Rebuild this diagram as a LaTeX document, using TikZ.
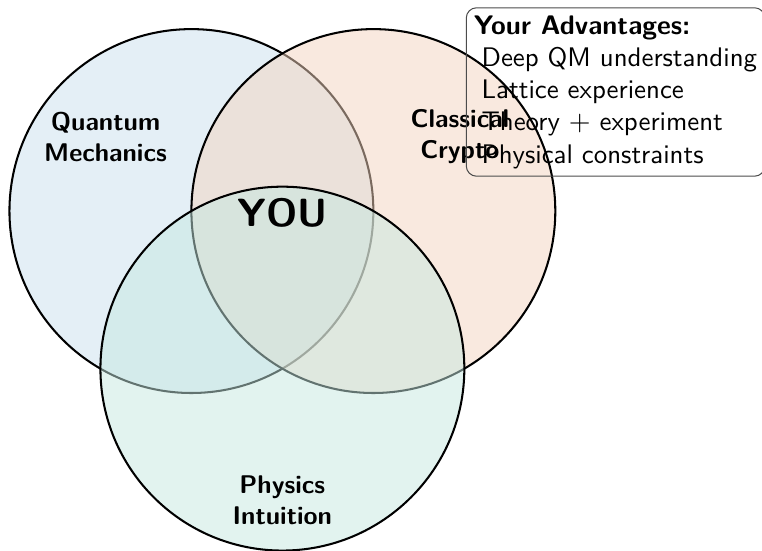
\documentclass[tikz,border=0pt]{standalone}
\usetikzlibrary{positioning}

\definecolor{qmblue}{RGB}{41,128,185}
\definecolor{cryptoorange}{RGB}{211,84,0}
\definecolor{physgreen}{RGB}{22,160,133}

\begin{document}
\begin{tikzpicture}[
		font=\sffamily,
		venn/.style={circle, draw, thick, minimum size=5cm, fill opacity=0.5},
		area/.style={font=\sffamily\bfseries, align=center},
		advbox/.style={draw=black!70, rounded corners=4pt, align=left, inner sep=3pt,
			font=\sffamily\fontsize{10.5}{12.6}\selectfont},
	]
		\useasboundingbox (-2.63,-4.67) rectangle (7.84,2.90);

		% the three fields
		\node (qm) [venn, fill=qmblue!25] at (0,0) {};
		\node (crypto) [venn, fill=cryptoorange!25] at (2.5,0) {};
		\node (phys) [venn, fill=physgreen!25] at (1.25,-2.165) {};

		\node (qmlabel) [area] at (-1.18,1.02) {Quantum\\Mechanics};
		\node (cryptolabel) [area] at (3.69,1.02) {Classical\\Crypto};
		\node (physlabel) [area] at (1.25,-3.97) {Physics\\Intuition};
		\node (you) [area, font=\sffamily\bfseries\fontsize{15.4}{18}\selectfont] at (1.25,-0.03) {YOU};

		\node (adv) [advbox, anchor=north west] at (3.77,2.80) {%
			\textbf{Your Advantages:}\\
			\hspace{3pt}Deep QM understanding\\
			\hspace{3pt}Lattice experience\\
			\hspace{3pt}Theory $+$ experiment\\
			\hspace{3pt}Physical constraints};
	\end{tikzpicture}
\end{document}
